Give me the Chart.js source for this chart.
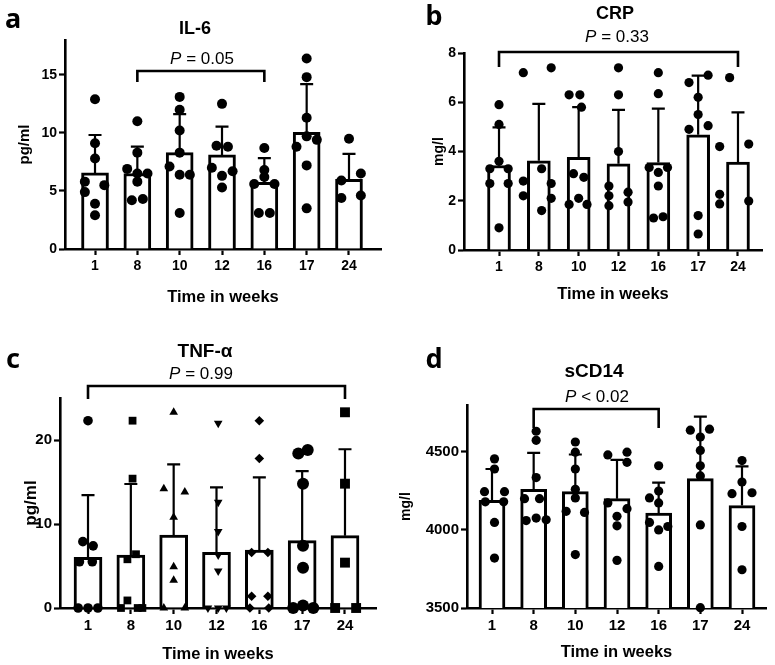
<!DOCTYPE html>
<html>
<head>
<meta charset="utf-8">
<script src="https://cdn.jsdelivr.net/npm/chart.js@4.4.1/dist/chart.umd.min.js"></script>
<style>
  body { margin: 0; background: #fff; }
  #wrap { position: relative; width: 775px; height: 665px; overflow: hidden; }
  canvas { position: absolute; }
  .lbl { position: absolute; transform: translate(-50%, -50%); white-space: nowrap; color: #000;
         font-family: 'Liberation Sans', Arial, sans-serif; line-height: 1; }
  .letter { font-family: 'Noto Sans', sans-serif; font-weight: 700; font-size: 27px; }
  .title { font-weight: 700; }
  .pval { font-size: 17px; }
</style>
</head>
<body>
<div id="wrap">
  <canvas id="cA" width="387" height="310" style="left:0;top:0"></canvas>
  <canvas id="cB" width="388" height="310" style="left:387px;top:0"></canvas>
  <canvas id="cC" width="387" height="355" style="left:0;top:310px"></canvas>
  <canvas id="cD" width="388" height="355" style="left:387px;top:310px"></canvas>

  <div class="lbl letter" style="left:13px;top:17px">a</div>
  <div class="lbl letter" style="left:434px;top:14px">b</div>
  <div class="lbl letter" style="left:13px;top:357px">c</div>
  <div class="lbl letter" style="left:434px;top:357px">d</div>

  <div class="lbl title" style="left:195px;top:28px;font-size:18px">IL-6</div>
  <div class="lbl title" style="left:615px;top:13px;font-size:18px">CRP</div>
  <div class="lbl title" style="left:205px;top:350px;font-size:19px">TNF-α</div>
  <div class="lbl title" style="left:594px;top:370px;font-size:19px">sCD14</div>

  <div class="lbl pval" style="left:202px;top:58px"><i>P</i> = 0.05</div>
  <div class="lbl pval" style="left:617px;top:36px"><i>P</i> = 0.33</div>
  <div class="lbl pval" style="left:201px;top:373px"><i>P</i> = 0.99</div>
  <div class="lbl pval" style="left:597px;top:396px"><i>P</i> &lt; 0.02</div>
</div>

<script>
/* ======================================================
    DATA
====================================================== */
const weeks = ['1', '8', '10', '12', '16', '17', '24'];

// IL-6 (pg/ml)
const il6Ticks = [0, 5, 10, 15];
const il6Mean = [6.55, 6.5, 8.3, 8.1, 5.75, 10.05, 6.0];
const il6Sd   = [3.27, 2.32, 3.32, 2.44, 2.07, 4.15, 2.2];
const il6Values = [
  [12.9, 9.1, 7.8, 5.8, 5.5, 4.9, 3.9, 2.9],
  [11.0, 8.3, 6.9, 6.5, 6.5, 5.8, 4.2, 4.3],
  [13.1, 12.0, 10.2, 8.3, 7.1, 6.4, 6.4, 3.1],
  [12.5, 8.9, 8.8, 7.0, 6.7, 6.3, 5.3],
  [8.7, 6.8, 6.2, 5.6, 5.6, 3.1, 3.1],
  [16.4, 14.8, 11.3, 9.7, 8.8, 9.4, 7.2, 3.5],
  [9.5, 5.9, 6.5, 4.4, 4.6]
];
const il6Dx = [
  [0, 0, 0, -0.24, 0.22, -0.24, 0, 0],
  [0, 0, -0.24, 0, 0.24, 0, -0.13, 0.13],
  [0, 0, 0, 0, -0.24, 0, 0.24, 0],
  [0, -0.13, 0.14, -0.24, 0.25, 0, 0],
  [0, 0, 0, -0.24, 0.24, -0.13, 0.13],
  [0, 0, 0, 0, -0.24, 0.24, 0, 0],
  [0, -0.18, 0.28, -0.18, 0.28]
];

// CRP (mg/l)
const crpTicks = [0, 2, 4, 6, 8];
const crpMean = [3.43, 3.62, 3.76, 3.5, 3.55, 4.68, 3.57];
const crpSd   = [1.55, 2.31, 2.04, 2.19, 2.19, 2.4, 2.02];
const crpValues = [
  [5.9, 5.1, 3.6, 3.3, 3.3, 2.7, 2.7, 0.9],
  [7.2, 7.4, 3.3, 2.8, 2.7, 2.2, 2.1, 1.6],
  [6.3, 6.3, 5.8, 3.1, 2.95, 1.85, 2.1, 1.85],
  [7.4, 6.3, 4.0, 2.6, 2.35, 2.2, 1.8, 1.95],
  [7.2, 6.35, 3.35, 3.35, 3.15, 2.6, 1.3, 1.35],
  [6.8, 7.1, 6.2, 5.5, 4.9, 5.05, 1.4, 0.65],
  [7.0, 4.2, 4.3, 2.26, 1.87, 1.99]
];
const crpDx = [
  [0, 0, 0, -0.23, 0.23, -0.23, 0.23, 0],
  [-0.39, 0.31, 0.07, -0.39, 0.31, -0.39, 0.31, 0.07],
  [-0.24, 0.03, 0.07, -0.13, 0.13, -0.24, 0, 0.21],
  [0, 0, 0, -0.24, 0.24, -0.24, -0.24, 0.24],
  [0, 0, -0.23, 0.23, 0, 0, -0.12, 0.12],
  [-0.23, 0.25, 0, 0, -0.23, 0.25, 0, 0],
  [-0.21, -0.46, 0.27, -0.46, -0.46, 0.27]
];

// TNF-alpha (pg/ml)
const tnfTicks = [0, 10, 20];
const tnfMean = [6.03, 6.31, 8.69, 6.63, 6.9, 8.02, 8.61];
const tnfSd   = [7.4, 8.45, 8.4, 7.74, 8.66, 8.28, 10.29];
const tnfValues = [
  [22.3, 7.9, 7.4, 5.5, 5.5, 0, 0, 0],
  [22.3, 15.4, 6.4, 5.8, 0.9, 0, 0, 0],
  [23.3, 14.2, 13.8, 10.8, 4.9, 3.3, 0, 0],
  [22.0, 12.6, 9.1, 6.3, 4.4, 0, 0, 0],
  [22.3, 17.8, 6.6, 6.6, 1.4, 1.4, 0, 0],
  [18.4, 18.8, 14.8, 7.4, 4.8, 0, 0.3, 0],
  [23.3, 14.8, 5.4, 0, 0]
];
const tnfDx = [
  [0, -0.12, 0.12, -0.2, 0.1, -0.23, 0, 0.23],
  [0.04, 0.04, 0.12, -0.08, -0.08, -0.23, 0.16, 0.27],
  [0, -0.23, 0.26, 0, 0, 0, -0.23, 0.26],
  [0.04, 0.04, 0.04, 0.04, 0.04, -0.2, 0.04, 0.23],
  [0, 0, -0.18, 0.2, -0.18, 0.2, -0.22, 0.22],
  [-0.09, 0.13, 0.02, 0.02, 0.02, -0.21, 0.02, 0.26],
  [0, 0, 0, -0.23, 0.26]
];
const tnfShapes = ['circle', 'rect', 'triangle', 'triangle', 'rectRot', 'circle', 'rect'];
const tnfTurn   = [0, 0, 0, 180, 0, 0, 0];
const tnfSizes  = [4.8, 5.5, 5, 5, 4.8, 6, 7];

// sCD14 (mg/l)
const cd14Ticks = [3500, 4000, 4500];
const cd14Mean = [4190, 4260, 4245, 4200, 4108, 4329, 4156];
const cd14Sd   = [200, 234, 238, 248, 195, 396, 251];
const cd14Values = [
  [4455, 4390, 4245, 4245, 4180, 4180, 4048, 3820],
  [4632, 4574, 4335, 4200, 4200, 4060, 4076, 4065],
  [4563, 4498, 4390, 4260, 4205, 4119, 4112, 3842],
  [4480, 4498, 4433, 4173, 4087, 4136, 4026, 3805],
  [4411, 4249, 4173, 4205, 4048, 4000, 4022, 3766],
  [4639, 4645, 4595, 4509, 4411, 4346, 4032, 3502],
  [4444, 4307, 4232, 4238, 4022, 3745]
];
const cd14Dx = [
  [0.06, 0.06, -0.18, 0.3, -0.16, 0.28, 0.06, 0.06],
  [0.06, 0.06, 0.06, -0.22, 0.14, -0.18, 0.06, 0.3],
  [0, 0, 0, 0, 0, -0.22, 0.22, 0],
  [-0.22, 0.24, 0.24, -0.22, 0, 0.24, 0, 0],
  [0, 0, 0, -0.22, -0.22, 0, 0.22, 0],
  [-0.24, 0.22, 0, 0, 0, 0, 0, 0],
  [0, 0, -0.24, 0.24, 0, 0]
];

/* ======================================================
    PLUGINS
====================================================== */
const errorBars = {
  id: 'errorBars',
  afterDatasetDraw(chart, args, opts) {
    if (args.index !== 0 || !opts.sd) return;
    const ctx = chart.ctx;
    const yScale = chart.scales.y;
    const means = chart.data.datasets[0].data;
    ctx.save();
    ctx.strokeStyle = '#000';
    ctx.lineWidth = 2.2;
    args.meta.data.forEach((bar, i) => {
      const top = yScale.getPixelForValue(means[i].y + opts.sd[i]);
      ctx.beginPath();
      ctx.moveTo(bar.x, bar.y);
      ctx.lineTo(bar.x, top);
      ctx.moveTo(bar.x - 6.5, top);
      ctx.lineTo(bar.x + 6.5, top);
      ctx.stroke();
    });
    ctx.restore();
  }
};

const bracket = {
  id: 'bracket',
  afterDraw(chart, args, opts) {
    if (opts.from == null) return;
    const ctx = chart.ctx;
    const x1 = chart.scales.x.getPixelForValue(opts.from);
    const x2 = chart.scales.x.getPixelForValue(opts.to);
    ctx.save();
    ctx.strokeStyle = '#000';
    ctx.lineWidth = 2.6;
    ctx.lineJoin = 'miter';
    ctx.beginPath();
    ctx.moveTo(x1, opts.legEnd);
    ctx.lineTo(x1, opts.y);
    ctx.lineTo(x2, opts.y);
    ctx.lineTo(x2, opts.legEnd);
    ctx.stroke();
    ctx.restore();
  }
};

Chart.register(errorBars, bracket);
Chart.defaults.font.family = "'Liberation Sans', Arial, sans-serif";
Chart.defaults.color = '#000';

/* ======================================================
    PANEL BUILDER
====================================================== */
function makePanel(id, p) {
  const canvas = document.getElementById(id);
  const W = canvas.width, H = canvas.height;

  const points = p.values.map((vals, i) => ({
    type: 'scatter',
    data: vals.map((v, k) => ({ x: i + p.dx[i][k], y: v })),
    pointStyle: p.shapes ? p.shapes[i] : 'circle',
    rotation: p.turn ? p.turn[i] : 0,
    pointRadius: p.sizes ? p.sizes[i] : p.radius,
    backgroundColor: '#000',
    borderColor: '#000',
    borderWidth: 0,
    clip: false,
    order: 1
  }));

  const axisGrid = { display: true, offset: false, drawOnChartArea: false, drawTicks: true,
                     tickLength: 6, tickColor: '#000', tickWidth: 2.2 };
  const axisBorder = { display: true, color: '#000', width: 2.6 };

  return new Chart(canvas.getContext('2d'), {
    type: 'scatter',
    data: {
      datasets: [{
        type: 'bar',
        data: p.mean.map((m, i) => ({ x: i, y: m })),
        backgroundColor: '#fff',
        borderColor: '#000',
        borderWidth: 3,
        barThickness: p.barWidth,
        order: 2
      }, ...points]
    },
    options: {
      responsive: false,
      animation: false,
      events: [],
      layout: { padding: { top: p.area.top, right: W - p.area.right, left: 0, bottom: 0 } },
      plugins: {
        legend: { display: false },
        tooltip: { enabled: false },
        errorBars: { sd: p.sd },
        bracket: p.bracket
      },
      scales: {
        x: {
          type: 'linear', min: p.xMin, max: p.xMax, offset: false,
          border: axisBorder, grid: axisGrid,
          ticks: { stepSize: 1, includeBounds: false, autoSkip: false, maxRotation: 0, padding: 3,
                   font: { size: p.tickSize, weight: 'bold' }, color: '#000',
                   callback: v => weeks[v] ?? '' },
          afterBuildTicks: s => { s.ticks = weeks.map((w, i) => ({ value: i })); },
          title: { display: true, text: 'Time in weeks', color: '#000',
                   font: { size: 16.5, weight: 'bold' }, padding: { top: 0, bottom: p.xTitlePad } },
          afterFit: s => { s.height = H - p.area.bottom; }
        },
        y: {
          min: p.yMin, max: p.yMax,
          border: axisBorder, grid: axisGrid,
          ticks: { autoSkip: false, padding: 2, callback: v => String(v),
                   font: { size: p.tickSize, weight: 'bold' }, color: '#000' },
          afterBuildTicks: s => { s.ticks = p.yTicks.map(v => ({ value: v })); },
          title: { display: true, text: p.yTitle, color: '#000',
                   font: { size: p.yTitleSize, weight: 'bold' }, padding: { top: p.yTitlePad, bottom: 0 } },
          afterFit: s => { s.width = p.area.left; }
        }
      }
    }
  });
}

/* ======================================================
    PANELS
====================================================== */
makePanel('cA', {
  mean: il6Mean, sd: il6Sd, values: il6Values, dx: il6Dx, radius: 5,
  area: { left: 65, right: 381, top: 40, bottom: 249 },
  xMin: -0.709, xMax: 6.756, yMin: 0, yMax: 18, yTicks: il6Ticks, barWidth: 27,
  tickSize: 14, yTitle: 'pg/ml', yTitleSize: 15, yTitlePad: 16, xTitlePad: 3,
  bracket: { from: 1, to: 4, y: 71, legEnd: 82 }
});

makePanel('cB', {
  mean: crpMean, sd: crpSd, values: crpValues, dx: crpDx, radius: 4.6,
  area: { left: 77, right: 375, top: 53, bottom: 250 },
  xMin: -0.879, xMax: 6.603, yMin: 0, yMax: 8, yTicks: crpTicks, barWidth: 23,
  tickSize: 14, yTitle: 'mg/l', yTitleSize: 14, yTitlePad: 44, xTitlePad: 6,
  bracket: { from: 0, to: 6, y: 52, legEnd: 67 }
});

makePanel('cC', {
  mean: tnfMean, sd: tnfSd, values: tnfValues, dx: tnfDx,
  shapes: tnfShapes, turn: tnfTurn, sizes: tnfSizes,
  area: { left: 60, right: 376, top: 88, bottom: 298 },
  xMin: -0.654, xMax: 6.724, yMin: 0, yMax: 25, yTicks: tnfTicks, barWidth: 28,
  tickSize: 15, yTitle: 'pg/ml', yTitleSize: 17, yTitlePad: 21, xTitlePad: 1,
  bracket: { from: 0, to: 6, y: 76, legEnd: 89 }
});

makePanel('cD', {
  mean: cd14Mean, sd: cd14Sd, values: cd14Values, dx: cd14Dx, radius: 4.6,
  area: { left: 80, right: 379, top: 95, bottom: 298 },
  xMin: -0.6, xMax: 6.576, yMin: 3500, yMax: 4800, yTicks: cd14Ticks, barWidth: 26,
  tickSize: 15, yTitle: 'mg/l', yTitleSize: 14, yTitlePad: 11, xTitlePad: 3,
  bracket: { from: 1, to: 4, y: 99, legEnd: 118 }
});
</script>
</body>
</html>
